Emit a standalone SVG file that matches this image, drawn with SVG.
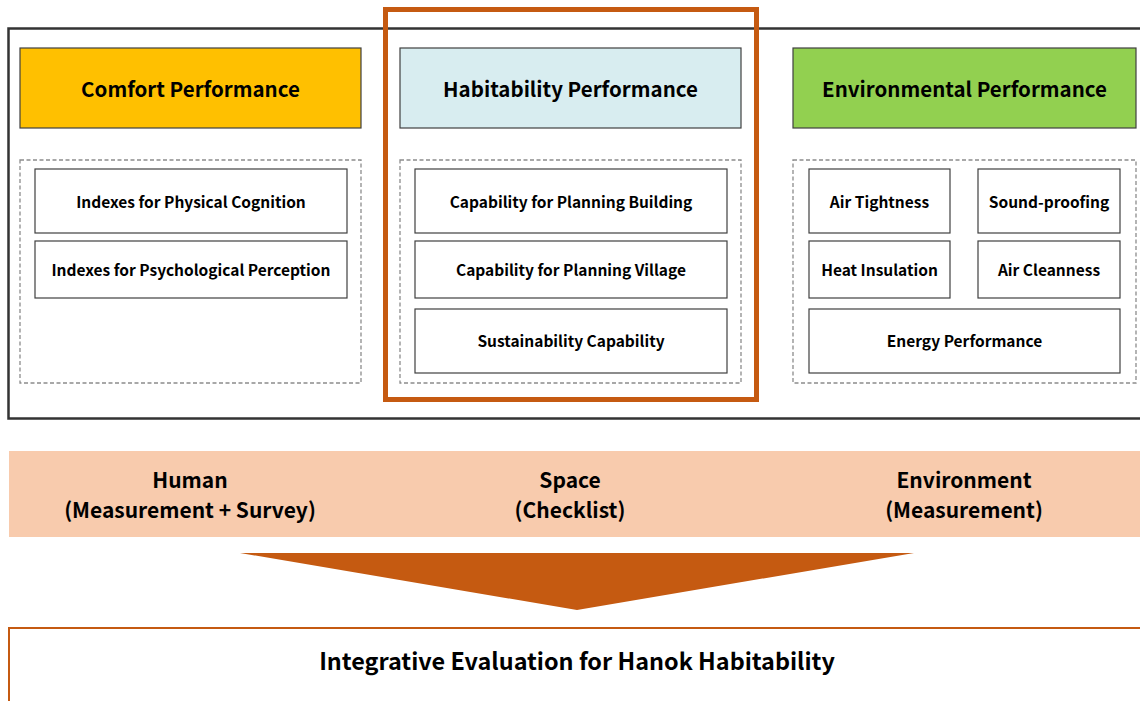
<svg xmlns="http://www.w3.org/2000/svg" width="1140" height="701" viewBox="0 0 1140 701">
  <style>
    text { font-family: "Noto Sans CJK KR", "Noto Sans", "Liberation Sans", sans-serif; font-weight: 700; fill: #000; text-anchor: middle; }
    .head { font-size: 20.5px; }
    .item { font-size: 15.5px; }
    .band { font-size: 21px; }
    .final { font-size: 23.4px; }
    .hbox { stroke: #404040; stroke-width: 1.2; }
    .dash { fill: none; stroke: #8c8c8c; stroke-width: 1.3; stroke-dasharray: 4 2.5; }
    .ibox { fill: #fff; stroke: #404040; stroke-width: 1.2; }
  </style>

  <!-- outer frame of the three performance areas -->
  <rect x="8.5" y="28.5" width="1140" height="390" fill="#fff" stroke="#333" stroke-width="2.5"/>

  <!-- Comfort -->
  <g id="comfort">
    <rect class="hbox" x="20" y="48" width="341" height="80" fill="#FFC000"/>
    <text class="head" x="190.5" y="97">Comfort Performance</text>
    <rect class="dash" x="20" y="160" width="341" height="223"/>
    <rect class="ibox" x="35" y="169" width="312" height="64"/>
    <text class="item" x="191" y="208">Indexes for Physical Cognition</text>
    <rect class="ibox" x="35" y="241" width="312" height="57"/>
    <text class="item" x="191" y="276">Indexes for Psychological Perception</text>
  </g>

  <!-- Habitability -->
  <g id="habitability">
    <rect class="hbox" x="400" y="48" width="341" height="80" fill="#D8EDF0"/>
    <text class="head" x="570.5" y="97">Habitability Performance</text>
    <rect class="dash" x="400" y="160" width="341" height="223"/>
    <rect class="ibox" x="415" y="169" width="312" height="64"/>
    <text class="item" x="571" y="208">Capability for Planning Building</text>
    <rect class="ibox" x="415" y="241" width="312" height="57"/>
    <text class="item" x="571" y="276">Capability for Planning Village</text>
    <rect class="ibox" x="415" y="309" width="312" height="64"/>
    <text class="item" x="571" y="347">Sustainability Capability</text>
  </g>

  <!-- Environmental -->
  <g id="environmental">
    <rect class="hbox" x="793" y="48" width="343" height="80" fill="#92D050"/>
    <text class="head" x="964.5" y="97">Environmental Performance</text>
    <rect class="dash" x="793" y="160" width="343" height="223"/>
    <rect class="ibox" x="809" y="169" width="141" height="64"/>
    <text class="item" x="879.5" y="208">Air Tightness</text>
    <rect class="ibox" x="978" y="169" width="142" height="64"/>
    <text class="item" x="1049" y="208">Sound-proofing</text>
    <rect class="ibox" x="809" y="241" width="141" height="57"/>
    <text class="item" x="879.5" y="276">Heat Insulation</text>
    <rect class="ibox" x="978" y="241" width="142" height="57"/>
    <text class="item" x="1049" y="276">Air Cleanness</text>
    <rect class="ibox" x="809" y="309" width="311" height="64"/>
    <text class="item" x="964.5" y="347">Energy Performance</text>
  </g>

  <!-- highlight frame round the habitability column -->
  <rect id="highlight" x="385.5" y="9.5" width="371" height="390" fill="none" stroke="#C55A11" stroke-width="5"/>

  <!-- measurement methods band -->
  <g id="methods">
    <rect x="9" y="451" width="1131" height="86" fill="#F8CBAD"/>
    <text class="band" x="190" y="488">Human</text>
    <text class="band" x="190" y="518">(Measurement + Survey)</text>
    <text class="band" x="570" y="488">Space</text>
    <text class="band" x="570" y="518">(Checklist)</text>
    <text class="band" x="964" y="488">Environment</text>
    <text class="band" x="964" y="518">(Measurement)</text>
  </g>

  <!-- funnel arrow -->
  <g id="connectors">
    <polygon points="240,553 914,553 577,610" fill="#C55A11"/>
  </g>

  <!-- integrated result -->
  <g id="result">
    <rect x="9" y="628" width="1140" height="90" fill="#fff" stroke="#C55A11" stroke-width="2"/>
    <text class="final" x="577" y="670">Integrative Evaluation for Hanok Habitability</text>
  </g>
</svg>
